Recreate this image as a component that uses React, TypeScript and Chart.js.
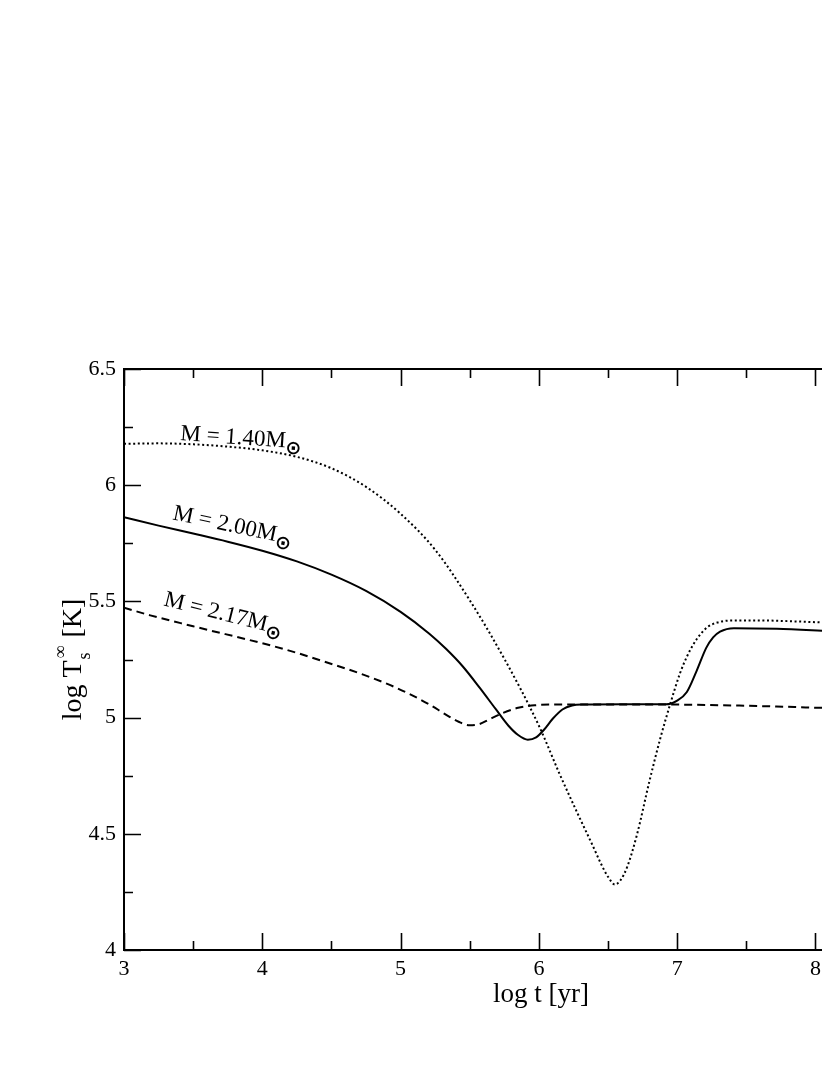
import React, { useEffect, useRef } from "react";
import { Chart, registerables } from "chart.js";

Chart.register(...registerables);

// M = 1.40 Msun (dotted)
const logAge140 = [3.0, 3.25, 3.5, 3.75, 4.0, 4.25, 4.5, 4.75, 5.0, 5.25, 5.5, 5.75, 6.0, 6.15, 6.27, 6.39, 6.45, 6.5, 6.55, 6.59, 6.64, 6.71, 6.8, 6.88, 6.95, 7.02, 7.07, 7.12, 7.17, 7.22, 7.29, 7.4, 7.6, 7.85, 8.1];
const logTs140 = [6.178, 6.18, 6.176, 6.166, 6.15, 6.122, 6.073, 5.993, 5.877, 5.722, 5.505, 5.253, 4.965, 4.757, 4.6, 4.448, 4.37, 4.315, 4.282, 4.3, 4.36, 4.498, 4.728, 4.915, 5.059, 5.19, 5.262, 5.318, 5.36, 5.39, 5.409, 5.418, 5.418, 5.414, 5.408];

// M = 2.00 Msun (solid)
const logAge200 = [3.0, 3.25, 3.5, 3.75, 4.0, 4.25, 4.5, 4.75, 5.0, 5.21, 5.33, 5.45, 5.57, 5.69, 5.78, 5.85, 5.92, 5.98, 6.04, 6.1, 6.17, 6.24, 6.32, 6.6, 6.92, 7.0, 7.07, 7.14, 7.21, 7.26, 7.31, 7.41, 7.72, 8.1];
const logTs200 = [5.862, 5.826, 5.792, 5.757, 5.718, 5.672, 5.615, 5.545, 5.455, 5.36, 5.295, 5.22, 5.13, 5.035, 4.965, 4.925, 4.905, 4.915, 4.95, 4.995, 5.035, 5.052, 5.056, 5.057, 5.057, 5.073, 5.11, 5.2, 5.3, 5.345, 5.37, 5.385, 5.382, 5.372];

// M = 2.17 Msun (dashed)
const logAge217 = [3.0, 3.19, 3.5, 4.15, 4.49, 4.73, 4.97, 5.21, 5.33, 5.42, 5.5, 5.57, 5.64, 5.74, 5.85, 5.97, 6.1, 6.95, 7.5, 8.1];
const logTs217 = [5.473, 5.44, 5.393, 5.296, 5.233, 5.185, 5.128, 5.056, 5.012, 4.982, 4.967, 4.972, 4.992, 5.02, 5.042, 5.053, 5.056, 5.056, 5.051, 5.041];

const massLabels = ["M = 1.40M", "M = 2.00M", "M = 2.17M"];
const labelAnchorX = [3.405, 3.347, 3.282];
const labelAnchorY = [6.194, 5.853, 5.483];
const labelAngleDeg = [4, 12, 14];

const xMin = 3;
const xMax = 8.105;
const yMin = 4;
const yMax = 6.5;
const xTitle = "log t [yr]";

const SERIF = '"Liberation Serif", "DejaVu Serif", serif';

const toPoints = (xs: number[], ys: number[]) => xs.map((x, i) => ({ x, y: ys[i] }));

const framePlugin = {
  id: "frame",
  afterDraw(chart: any) {
    const { ctx, chartArea: a, scales } = chart;
    const xs = scales.x;
    const ys = scales.y;
    ctx.save();
    ctx.strokeStyle = "#000";
    ctx.lineWidth = 2;
    ctx.beginPath();
    ctx.moveTo(a.right + 10, a.top);
    ctx.lineTo(a.left, a.top);
    ctx.lineTo(a.left, a.bottom);
    ctx.lineTo(a.right + 10, a.bottom);
    ctx.stroke();

    ctx.lineWidth = 1.6;
    ctx.beginPath();
    xs.ticks.forEach((t: any) => {
      const v = t.value;
      const px = Math.round(xs.getPixelForValue(v)) + 0.5;
      const L = Math.abs(v - Math.round(v)) < 1e-6 ? 17 : 9;
      ctx.moveTo(px, a.bottom);
      ctx.lineTo(px, a.bottom - L);
      ctx.moveTo(px, a.top);
      ctx.lineTo(px, a.top + L);
    });
    ys.ticks.forEach((t: any) => {
      const v = t.value;
      const py = Math.round(ys.getPixelForValue(v)) + 0.5;
      const L = Math.abs(v * 2 - Math.round(v * 2)) < 1e-6 ? 17 : 9;
      ctx.moveTo(a.left, py);
      ctx.lineTo(a.left + L, py);
    });
    ctx.stroke();

    // curve labels
    ctx.fillStyle = "#000";
    massLabels.forEach((txt, i) => {
      const px = xs.getPixelForValue(labelAnchorX[i]);
      const py = ys.getPixelForValue(labelAnchorY[i]);
      ctx.save();
      ctx.translate(px, py);
      ctx.rotate((labelAngleDeg[i] * Math.PI) / 180);
      ctx.font = `23px ${SERIF}`;
      ctx.textBaseline = "alphabetic";
      ctx.textAlign = "left";
      ctx.fillText(txt, 0, 0);
      const w = ctx.measureText(txt).width;
      ctx.font = `bold 19px "DejaVu Sans", sans-serif`;
      ctx.fillText("\u2299", w, 6);
      ctx.restore();
    });

    // x title
    ctx.font = `27px ${SERIF}`;
    ctx.textAlign = "center";
    ctx.textBaseline = "alphabetic";
    ctx.fillText(xTitle, 533, a.bottom + 52);

    // y title with sub/superscript
    ctx.save();
    const cx = 73;
    const cy = (a.top + a.bottom) / 2;
    ctx.translate(cx, cy);
    ctx.rotate(-Math.PI / 2);
    ctx.textAlign = "left";
    const big = `28px ${SERIF}`;
    const small = `18px ${SERIF}`;
    ctx.font = big;
    const p1 = "log T";
    const p3 = " [K]";
    const w1 = ctx.measureText(p1).width;
    const w3 = ctx.measureText(p3).width;
    ctx.font = small;
    const wInf = ctx.measureText("\u221E").width;
    const wS = ctx.measureText("s").width;
    const wMid = Math.max(wInf, wS) + 3;
    const total = w1 + wMid + w3;
    const x0 = -total / 2;
    ctx.font = big;
    ctx.fillText(p1, x0, 0);
    ctx.font = small;
    ctx.fillText("\u221E", x0 + w1 + 2, -15);
    ctx.fillText("s", x0 + w1 + 1, 9);
    ctx.font = big;
    ctx.fillText(p3, x0 + w1 + wMid, 0);
    ctx.restore();

    ctx.restore();
  },
};

export default function App() {
  const canvasRef = useRef<HTMLCanvasElement | null>(null);

  useEffect(() => {
    const canvas = canvasRef.current;
    if (!canvas) return;
    const common = {
      borderColor: "#000",
      borderWidth: 2,
      pointRadius: 0,
      cubicInterpolationMode: "monotone",
      fill: false,
    };
    const chart = new Chart(canvas, {
      type: "line",
      data: {
        datasets: [
          { ...common, label: "M = 1.40", data: toPoints(logAge140, logTs140), borderDash: [2, 2.6] },
          { ...common, label: "M = 2.00", data: toPoints(logAge200, logTs200) },
          { ...common, label: "M = 2.17", data: toPoints(logAge217, logTs217), borderDash: [8, 5] },
        ],
      },
      options: {
        animation: false,
        responsive: false,
        devicePixelRatio: 1,
        layout: { padding: { top: 361, left: 0, right: 0, bottom: 0 } },
        plugins: {
          legend: { display: false },
          tooltip: { enabled: false },
        },
        scales: {
          x: {
            type: "linear",
            min: xMin,
            max: xMax,
            grid: { display: false, drawTicks: false },
            border: { display: false },
            ticks: {
              stepSize: 0.5,
              includeBounds: false,
              autoSkip: false,
              maxRotation: 0,
              padding: 6,
              color: "#000",
              font: { family: SERIF, size: 22 },
              callback: (v: any) => (Math.abs(v - Math.round(v)) < 1e-6 ? String(Math.round(v)) : ""),
            },
            afterFit: (s: any) => {
              s.height = 117;
            },
          },
          y: {
            type: "linear",
            min: yMin,
            max: yMax,
            grid: { display: false, drawTicks: false },
            border: { display: false },
            ticks: {
              stepSize: 0.25,
              autoSkip: false,
              padding: 8,
              color: "#000",
              font: { family: SERIF, size: 22 },
              callback: (v: any) => (Math.abs(v * 2 - Math.round(v * 2)) < 1e-6 ? String(Number(v.toFixed(1))) : ""),
            },
            afterFit: (s: any) => {
              s.width = 116;
            },
          },
        },
      },
      plugins: [framePlugin],
    } as any);
    return () => chart.destroy();
  }, []);

  return (
    <div style={{ width: 822, height: 1059, overflow: "hidden" }}>
      <canvas ref={canvasRef} width={822} height={1059} style={{ display: "block", width: 822, height: 1059 }} />
    </div>
  );
}
